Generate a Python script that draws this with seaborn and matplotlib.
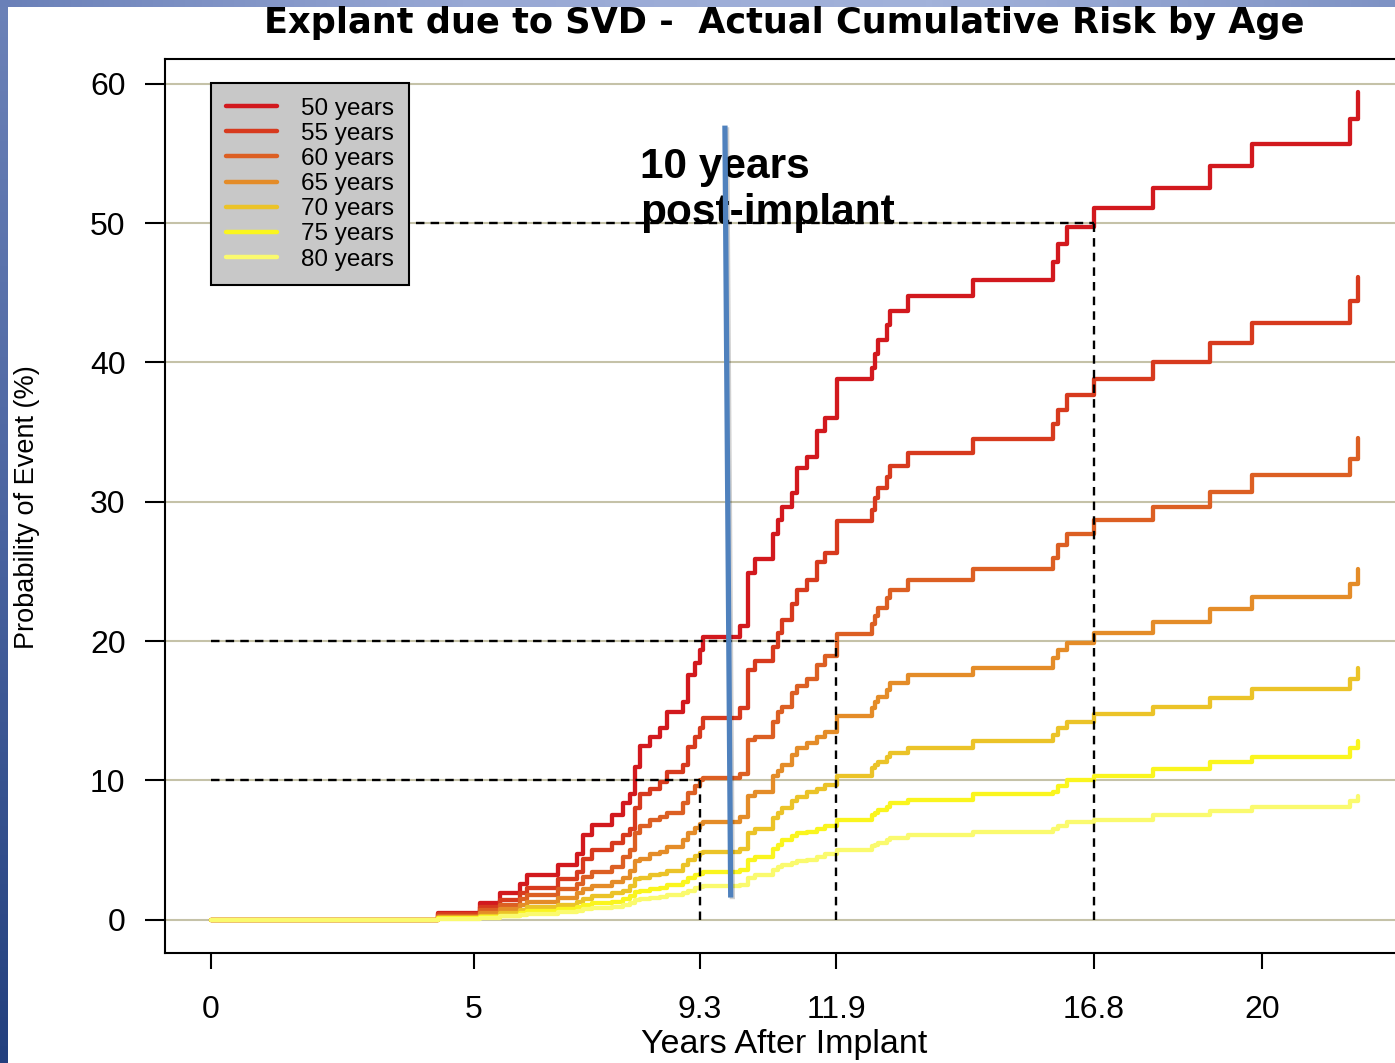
import numpy as np
import pandas as pd
import matplotlib
matplotlib.use("Agg")
import matplotlib.pyplot as plt
import matplotlib.patheffects as pe
from matplotlib import font_manager
from matplotlib.colors import LinearSegmentedColormap
import seaborn as sns

# ---- data -----------------------------------------------------------------
# event times (years after implant) shared by every age curve
event_years = [0.00, 4.32, 5.12, 5.50, 5.88, 6.01, 6.60, 6.96, 7.08, 7.25, 7.63,
               7.84, 7.97, 8.07, 8.16, 8.35, 8.54, 8.68, 8.98, 9.08, 9.21,
               9.31, 9.36, 10.07, 10.22, 10.35, 10.69, 10.79, 10.87, 11.06, 11.15,
               11.34, 11.53, 11.68, 11.91, 12.58, 12.64, 12.69, 12.86, 12.92, 13.26,
               14.50, 16.02, 16.12, 16.29, 16.80, 17.93, 19.01, 19.81, 21.67, 21.83]

# cumulative risk of explant (%) after each event time, by age at implant
risk_50 = [0.0, 0.5, 1.2, 1.9, 2.6, 3.2, 3.9, 4.7, 6.1, 6.8, 7.5,
           8.4, 9.0, 11.0, 12.5, 13.1, 13.8, 14.9, 15.6, 17.6, 18.4,
           19.4, 20.3, 21.1, 24.9, 25.9, 27.7, 28.7, 29.6, 30.6, 32.4,
           33.2, 35.1, 36.0, 38.8, 39.6, 40.6, 41.6, 42.7, 43.7, 44.8,
           45.9, 47.2, 48.5, 49.7, 51.1, 52.5, 54.1, 55.7, 57.5, 59.4]
risk_55 = [0.0, 0.4, 0.9, 1.4, 1.9, 2.3, 2.9, 3.4, 4.4, 5.0, 5.5,
           6.1, 6.5, 8.0, 9.0, 9.4, 9.9, 10.6, 11.1, 12.4, 13.1,
           13.8, 14.5, 15.2, 17.9, 18.6, 19.6, 20.6, 21.5, 22.7, 23.7,
           24.4, 25.7, 26.3, 28.6, 29.4, 30.3, 31.0, 31.8, 32.6, 33.5,
           34.5, 35.6, 36.6, 37.7, 38.8, 40.0, 41.4, 42.8, 44.4, 46.1]
risk_60 = [0.0, 0.3, 0.7, 1.1, 1.5, 1.8, 2.2, 2.6, 3.1, 3.4, 3.8,
           4.5, 5.0, 6.2, 6.7, 7.2, 7.4, 7.7, 8.4, 9.1, 9.6,
           10.0, 10.2, 10.5, 12.9, 13.1, 14.2, 14.9, 15.3, 16.3, 16.8,
           17.3, 18.3, 18.9, 20.5, 21.2, 21.8, 22.4, 23.1, 23.7, 24.4,
           25.2, 26.0, 26.9, 27.7, 28.7, 29.6, 30.7, 31.9, 33.1, 34.6]
risk_65 = [0.0, 0.2, 0.5, 0.8, 1.1, 1.3, 1.6, 1.9, 2.2, 2.4, 2.7,
           3.0, 3.5, 4.2, 4.4, 4.7, 4.9, 5.2, 5.7, 6.2, 6.6,
           6.9, 7.0, 7.4, 8.9, 9.2, 10.3, 10.7, 11.1, 11.8, 12.3,
           12.7, 13.1, 13.5, 14.6, 15.2, 15.6, 16.0, 16.5, 17.0, 17.6,
           18.1, 18.8, 19.4, 19.9, 20.6, 21.4, 22.3, 23.2, 24.1, 25.2]
risk_70 = [0.0, 0.1, 0.3, 0.5, 0.7, 0.9, 1.1, 1.3, 1.5, 1.7, 1.9,
           2.1, 2.4, 2.9, 3.0, 3.2, 3.3, 3.5, 3.9, 4.3, 4.6,
           4.8, 4.9, 5.1, 6.2, 6.5, 7.3, 7.7, 8.0, 8.5, 8.8,
           9.2, 9.4, 9.7, 10.3, 10.9, 11.1, 11.3, 11.7, 12.0, 12.3,
           12.8, 13.3, 13.8, 14.2, 14.8, 15.3, 15.9, 16.6, 17.3, 18.1]
risk_75 = [0.0, 0.1, 0.2, 0.3, 0.5, 0.6, 0.8, 0.9, 1.1, 1.2, 1.3,
           1.5, 1.7, 2.0, 2.1, 2.2, 2.3, 2.5, 2.7, 3.0, 3.2,
           3.3, 3.4, 3.6, 4.3, 4.5, 5.1, 5.4, 5.7, 6.0, 6.2,
           6.3, 6.5, 6.7, 7.2, 7.5, 7.7, 7.9, 8.1, 8.4, 8.6,
           9.0, 9.2, 9.6, 10.0, 10.3, 10.8, 11.3, 11.7, 12.3, 12.8]
risk_80 = [0.0, 0.05, 0.15, 0.25, 0.35, 0.4, 0.55, 0.65, 0.75, 0.85, 0.95,
           1.05, 1.2, 1.4, 1.5, 1.6, 1.65, 1.75, 1.9, 2.1, 2.25,
           2.35, 2.4, 2.5, 3.0, 3.2, 3.6, 3.8, 3.9, 4.1, 4.2,
           4.3, 4.5, 4.7, 5.0, 5.3, 5.4, 5.5, 5.7, 5.9, 6.1,
           6.3, 6.5, 6.7, 7.0, 7.2, 7.5, 7.8, 8.1, 8.5, 8.9]

age_labels = ["50 years", "55 years", "60 years", "65 years",
              "70 years", "75 years", "80 years"]
age_colors = ["#d2191e", "#d73a1e", "#dc5f23", "#e48c28",
              "#ebc328", "#faf51e", "#fafa6e"]

# milestones: time at which a curve reaches a given risk
milestone_years = [9.3, 11.9, 16.8]
milestone_risk = [10, 20, 50]

xtick_values = [0, 5, 9.3, 11.9, 16.8, 20]
xtick_labels = ["0", "5", "9.3", "11.9", "16.8", "20"]
ytick_values = [0, 10, 20, 30, 40, 50, 60]

# callout marking ten years after implant
callout_x = [9.78, 9.89]
callout_y = [57.0, 1.6]
callout_text = "10 years\npost-implant"

# ---- style ----------------------------------------------------------------
sns.set_style("white")
plt.rcParams["font.family"] = ["Liberation Sans", "DejaVu Sans"]
for key in ("text.color", "axes.labelcolor", "xtick.color", "ytick.color",
            "axes.edgecolor"):
    plt.rcParams[key] = "black"
installed = {f.name for f in font_manager.fontManager.ttflist}

W, H = 1395, 1063
fig = plt.figure(figsize=(W / 100, H / 100), dpi=100)
fig.patch.set_facecolor("white")

# slide frame gradients (left and top strips)
left_cmap = LinearSegmentedColormap.from_list("lf", ["#6c82b8", "#4a64a0", "#23407e"])
top_cmap = LinearSegmentedColormap.from_list("tf", ["#6a80b8", "#98a8d4", "#a2b2da", "#7e92c4"])
ls = fig.add_axes([0, 0, 8 / W, 1])
ls.imshow(np.linspace(0, 1, 256)[:, None], cmap=left_cmap, aspect="auto")
ls.axis("off")
ts = fig.add_axes([0, 1 - 7 / H, 1, 7 / H])
ts.imshow(np.linspace(0, 1, 256)[None, :], cmap=top_cmap, aspect="auto")
ts.axis("off")

ax = fig.add_axes([165 / W, 110 / H, 1239 / W, 894 / H])

frames = [pd.DataFrame({"years": event_years, "risk": vals, "age": lab})
          for lab, vals in zip(age_labels,
                               [risk_50, risk_55, risk_60, risk_65,
                                risk_70, risk_75, risk_80])]
df = pd.concat(frames, ignore_index=True)

sns.lineplot(data=df, x="years", y="risk", hue="age", hue_order=age_labels,
             palette=age_colors, drawstyle="steps-post", linewidth=3.1,
             estimator=None, ax=ax, zorder=3)

ax.set_xlim(-0.873, 22.70)
ax.set_ylim(-2.38, 61.78)

# reference grid
ax.yaxis.grid(True, color="#c5c2a8", linewidth=1.5)
ax.xaxis.grid(False)
ax.set_axisbelow(True)

# dashed milestone guides
for mx, my in zip(milestone_years, milestone_risk):
    ax.plot([0, mx], [my, my], color="black", lw=1.7, ls=(0, (3.6, 2.6)), zorder=4)
    ax.plot([mx, mx], [0, my], color="black", lw=1.7, ls=(0, (3.6, 2.6)), zorder=4)

# ticks
ax.set_xticks(xtick_values)
ax.set_xticklabels(xtick_labels)
ax.set_yticks(ytick_values)
ax.tick_params(axis="y", direction="out", length=14.4, width=1.5, pad=14,
               labelsize=23, left=True, colors="black")
ax.tick_params(axis="x", direction="out", length=11.5, width=1.5, pad=19,
               labelsize=23, bottom=True, colors="black")

for sp in ax.spines.values():
    sp.set_visible(True)
    sp.set_color("black")
    sp.set_linewidth(1.5)

# labels
ax.set_xlabel("Years After Implant", fontsize=24.5, color="black")
ax.xaxis.set_label_coords(0.5, (953 - 1044) / 894)
ax.xaxis.label.set_va("center")

if "Liberation Sans Narrow" in installed:
    ax.set_ylabel("Probability of Event (%)", fontsize=24, color="black",
                  family="Liberation Sans Narrow")
else:
    ax.set_ylabel("Probability of Event (%)", fontsize=19.5, color="black")
ax.yaxis.set_label_coords((27 - 165) / 1239, (953 - 507) / 894)
ax.yaxis.label.set_va("center")

ax.set_title("Explant due to SVD -  Actual Cumulative Risk by Age",
             fontsize=25.3, fontweight="bold", family="DejaVu Sans",
             color="black", y=(953 - 23) / 894, va="center", pad=0)

# legend
handles, labels = ax.get_legend_handles_labels()
for h in handles:
    h.set_linewidth(3.2)
leg = ax.legend(handles, labels, loc="upper left",
                bbox_to_anchor=((211 - 165) / 1239, (953 - 83) / 894),
                borderaxespad=0, fontsize=17.5, frameon=True, fancybox=False,
                facecolor="#c8c8c8", edgecolor="black", framealpha=1,
                borderpad=0.6, labelspacing=0.13, handlelength=2.1,
                handletextpad=1.0)
leg.get_frame().set_linewidth(1.5)
for t in leg.get_texts():
    t.set_color("black")
leg.set_zorder(5)

# ten-year callout
ax.text(8.16, 52.4, callout_text, fontsize=30.5, fontweight="bold",
        color="black", ha="left", va="center", zorder=5.5, linespacing=1.2)
ax.plot(callout_x, callout_y, color="#4f81bd", lw=3.8, zorder=6,
        solid_capstyle="butt",
        path_effects=[pe.SimpleLineShadow(offset=(1.2, -1.2), alpha=0.18),
                      pe.Normal()])

fig.savefig("out.png", dpi=100)
